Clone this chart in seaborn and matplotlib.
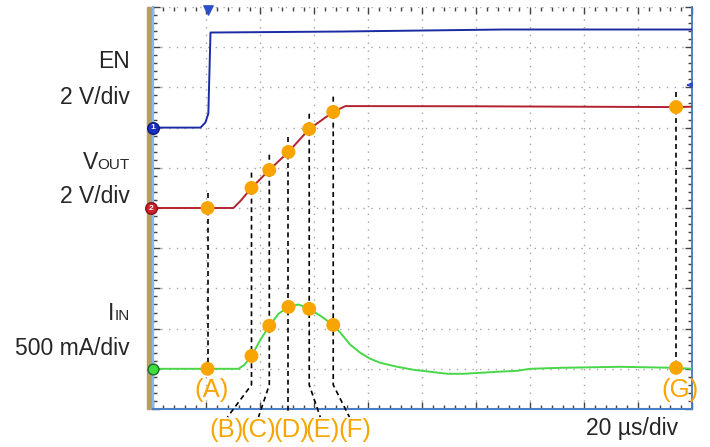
import matplotlib
matplotlib.use("Agg")
import matplotlib.pyplot as plt
import matplotlib.patches as mpatches
from matplotlib.ticker import MultipleLocator
import numpy as np
import pandas as pd
import seaborn as sns

# ---- captured waveforms (time in µs, trigger at t = 0) ----
en_t = [-20, -2.2, -0.4, 0.7, 1.5, 50, 110, 180]
en_v = [0.0, 0.0, 0.25, 0.7, 4.73, 4.78, 4.88, 4.88]

vout_t = [-20, 10.0, 12.6, 16.7, 23.3, 30.4, 38.1, 47.0, 51.5, 100, 174.1, 180]
vout_v = [0.0, 0.0, 0.35, 1.0, 1.89, 2.79, 3.93, 4.78, 5.07, 5.06, 5.02, 5.04]

iin_t = [-20, 11.9, 14.1, 16.7, 20.0, 23.3, 26.7, 30.4, 34.1, 38.1, 42.2, 47.0,
         49.6, 53.3, 57.0, 60.7, 64.4, 70.7, 76.7, 83.0, 89.3, 95.2, 101.5,
         107.8, 115.2, 120.0, 131.1, 153.3, 174.1, 180]
iin_a = [0.0, 0.0, 0.05, 0.16, 0.36, 0.535, 0.684, 0.77, 0.80, 0.745, 0.66, 0.545,
         0.45, 0.30, 0.20, 0.125, 0.075, 0.025, -0.012, -0.037, -0.062, -0.062, -0.05,
         -0.037, -0.025, 0.0, 0.012, 0.025, 0.012, 0.0]

# ---- marked instants ----
point_names = ["A", "B", "C", "D", "E", "F", "G"]
point_t = [0.4, 16.7, 23.3, 30.4, 38.1, 47.0, 174.1]
point_vout = [0.0, 1.0, 1.89, 2.79, 3.93, 4.78, 5.02]
point_iin = [0.0, 0.16, 0.535, 0.77, 0.745, 0.545, 0.012]

# ---- channel settings: scale per division and ground position (div) ----
channels = ["EN", "VOUT", "IIN"]
scale_per_div = [2.0, 2.0, 0.5]
ground_div = [7.0, 5.0, 1.0]
trace_colors = ["#1b2ba3", "#b3222e", "#48d748"]
time_per_div = 20  # µs

# ---- layout ----
W, H = 710, 447
ORANGE = "#F8A502"
label_x = {"A": 1.85, "B": 7.4, "C": 19.3, "D": 31.5, "E": 43.0, "F": 55.2, "G": 175.6}
lead_x = {"B": 7.8, "C": 19.3, "E": 42.2, "F": 53.0}

sns.set_style("white")
plt.rcParams["font.family"] = ["Liberation Sans", "DejaVu Sans"]

fig = plt.figure(figsize=(W / 100, H / 100), dpi=100)
ax = fig.add_axes([152.5 / W, 1 - 409 / H, (692 - 152.5) / W, (409 - 7) / H])
ax.set_xlim(-20, 180)
ax.set_ylim(0, 10)

def fx(px):
    return px / W

def fy(py):
    return 1 - py / H

# tan bezel strip left of the screen
fig.add_artist(mpatches.Rectangle((fx(146.5), fy(409)), 6 / W, 402 / H,
                                  transform=fig.transFigure, color="#B59E63", zorder=0))

# graticule
ax.xaxis.set_major_locator(MultipleLocator(time_per_div))
ax.xaxis.set_minor_locator(MultipleLocator(time_per_div / 5))
ax.yaxis.set_major_locator(MultipleLocator(1))
ax.yaxis.set_minor_locator(MultipleLocator(0.2))
ax.grid(True, which="major", color="#a5a5a5", linestyle=(0, (1, 4.6)), linewidth=1.0)
ax.tick_params(which="both", direction="in", top=True, right=True, bottom=True, left=True,
               labelbottom=False, labelleft=False, color="#444444", width=1.0)
ax.tick_params(which="major", length=5)
ax.tick_params(which="minor", length=3)
ax.spines["top"].set_visible(False)
ax.spines["left"].set_color("#8fb5e0")
ax.spines["left"].set_linewidth(1.6)
ax.spines["right"].set_color("#4677bd")
ax.spines["bottom"].set_color("#4a7fc6")
ax.spines["right"].set_linewidth(1.3)
ax.spines["bottom"].set_linewidth(1.5)

# traces, placed on screen divisions
frames = []
for name, t, vals, sc, g in zip(channels, [en_t, vout_t, iin_t], [en_v, vout_v, iin_a],
                                scale_per_div, ground_div):
    frames.append(pd.DataFrame({"t": t, "div": g + np.asarray(vals) / sc, "ch": name}))
traces = pd.concat(frames, ignore_index=True)
sns.lineplot(data=traces, x="t", y="div", hue="ch", palette=dict(zip(channels, trace_colors)),
             sort=False, estimator=None, legend=False, linewidth=1.4, ax=ax, zorder=3)

# guide lines from the marked instants
vout_div = [ground_div[1] + v / scale_per_div[1] for v in point_vout]
iin_div = [ground_div[2] + i / scale_per_div[2] for i in point_iin]
dash = dict(color="black", linewidth=1.2, linestyle=(0, (3, 2.2)), clip_on=False, zorder=4)
for n, t, yv, yi in zip(point_names, point_t, vout_div, iin_div):
    top = yv + 0.38
    if n in ("A", "G"):
        ax.plot([t, t], [top, yi], **dash)
    elif n == "D":
        ax.plot([t, t], [top, -0.1], **dash)
    else:
        ax.plot([t, t, lead_x[n]], [top, 0.6, -0.2], **dash)

# orange markers on VOUT and IIN
dots = pd.DataFrame({"t": point_t * 2, "div": vout_div + iin_div})
sns.scatterplot(data=dots, x="t", y="div", color=ORANGE, s=100, edgecolor="none",
                ax=ax, zorder=6, clip_on=False)
ax.set_xlabel("")
ax.set_ylabel("")

for n in point_names:
    y = 0.47 if n in ("A", "G") else -0.52
    ax.text(label_x[n], y, f"({n})", color=ORANGE, fontsize=18.5, ha="center",
            va="center", clip_on=False, zorder=7)

# channel ground markers
ax.scatter([-20], [ground_div[0]], s=70, color="#1a2fc0", edgecolor="#0a1a80",
           clip_on=False, zorder=8)
ax.text(-20, ground_div[0], "1", color="white", fontsize=6, fontweight="bold",
        ha="center", va="center", zorder=9, clip_on=False)
ax.scatter([-20.6], [ground_div[1]], s=70, color="#cc1f2a", edgecolor="#8a1018",
           clip_on=False, zorder=8)
ax.text(-20.6, ground_div[1], "2", color="white", fontsize=6, fontweight="bold",
        ha="center", va="center", zorder=9, clip_on=False)
ax.scatter([-20], [ground_div[2]], s=60, color="#3fdc3f", edgecolor="#1a6a2a",
           clip_on=False, zorder=8)

# trigger position and level indicators
ax.scatter([0.5], [9.92], marker="v", s=45, color="#2a4fc8", clip_on=False, zorder=8)
ax.annotate("", xy=(176.8, 8.06), xytext=(180, 8.06),
            arrowprops=dict(arrowstyle="-|>", color="#2a4fc8", lw=1.3, mutation_scale=7),
            annotation_clip=False)

# channel captions on the left
fs = 16.5
fig.text(fx(130), fy(68), "EN", fontsize=fs, ha="right", va="baseline")
fig.text(fx(130), fy(104), "2 V/div", fontsize=fs, ha="right", va="baseline")
fig.text(fx(130), fy(203), "2 V/div", fontsize=fs, ha="right", va="baseline")
fig.text(fx(130), fy(355), "500 mA/div", fontsize=fs, ha="right", va="baseline")
renderer = fig.canvas.get_renderer()
for big, small, base in [("V", "OUT", 169), ("I", "IN", 320)]:
    s = fig.text(fx(130), fy(base), small, fontsize=11, ha="right", va="baseline")
    left = s.get_window_extent(renderer).x0
    fig.text(left / W, fy(base), big, fontsize=fs, ha="right", va="baseline")

fig.text(fx(678), fy(435), "20 µs/div", fontsize=fs, ha="right", va="baseline")

fig.savefig("out.png", dpi=100, facecolor="white")
